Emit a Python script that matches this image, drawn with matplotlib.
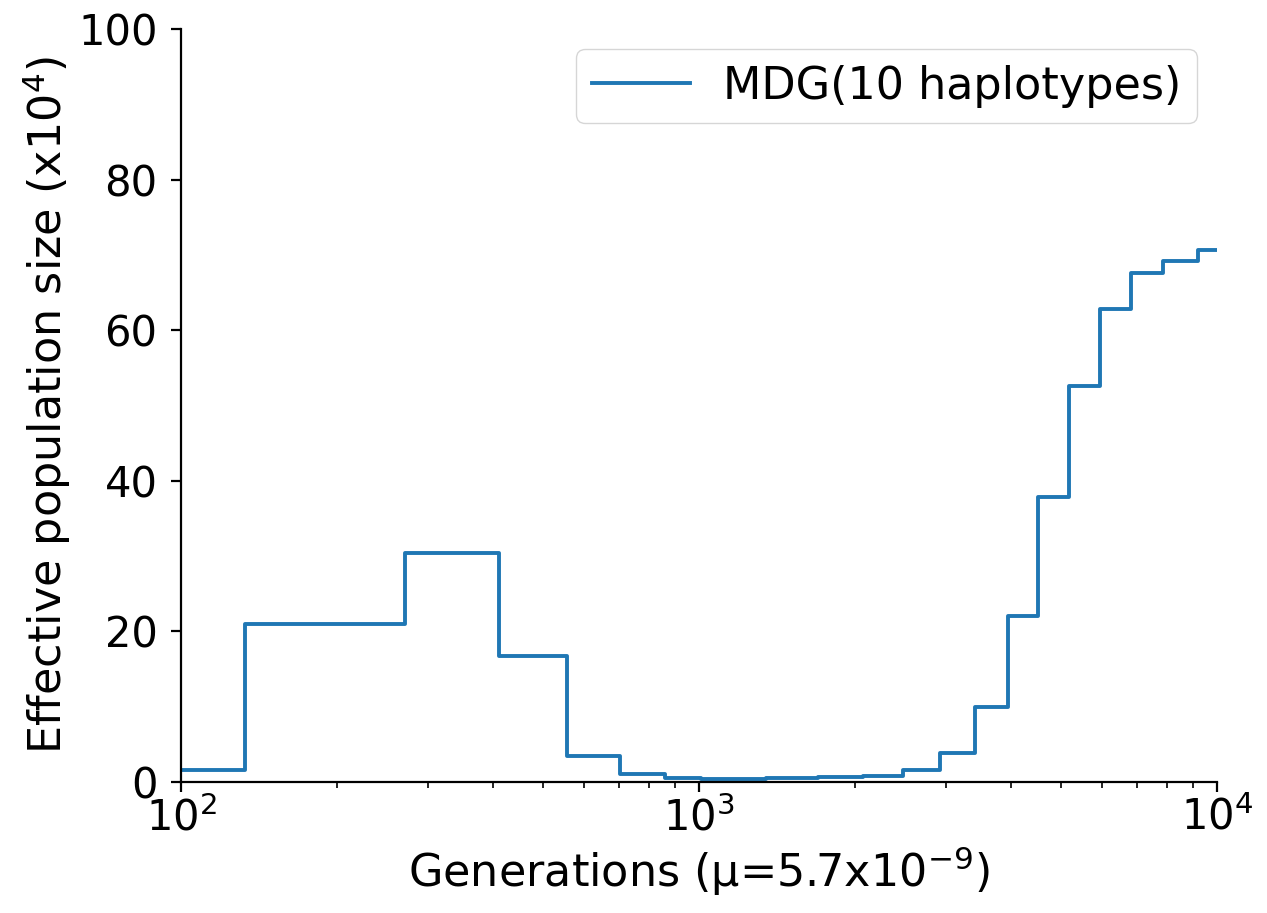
import numpy as np
import matplotlib
matplotlib.use("Agg")
import matplotlib.pyplot as plt

# step start times (generations) and Ne (x10^4)
generations = [100, 133, 271, 411, 557, 705, 861, 1010, 1349, 1697, 2073,
               2477, 2917, 3408, 3942, 4516, 5184, 5943, 6823, 7876, 9202]
ne = [1.63, 21.0, 30.4, 16.8, 3.4, 1.1, 0.57, 0.43, 0.48, 0.6, 0.8,
      1.55, 3.8, 10.0, 22.1, 37.85, 52.6, 62.85, 67.65, 69.2, 70.7]
x_end = 10000
label = "MDG(10 haplotypes)"

plt.rcParams['font.size'] = 32

fig = plt.figure(figsize=(12.67, 9.13), dpi=100)
ax = fig.add_axes([0.143, 0.1435, 0.8175, 0.8245])

x = generations + [x_end]
y = ne + [ne[-1]]
ax.plot(x, y, drawstyle='steps-post', color='#1f77b4', lw=2.8, label=label)

ax.set_xscale('log')
ax.set_xlim(100, 10000)
ax.set_ylim(0, 100)
ax.set_yticks([0, 20, 40, 60, 80, 100])

ax.set_xlabel(r"Generations ($\mathregular{\mu}$=5.7x10$^{-9}$)")
ax.set_ylabel(r"Effective population size (x10$^{4}$)")

ax.spines['top'].set_visible(False)
ax.spines['right'].set_visible(False)
for s in ['left', 'bottom']:
    ax.spines[s].set_linewidth(1.6)
ax.tick_params(which='major', length=7, width=1.6, labelsize=30)
ax.tick_params(axis='y', pad=10)
ax.tick_params(which='minor', length=4, width=1.2)

ax.legend(loc='upper right', handlelength=2.2, handletextpad=0.75,
          borderpad=0.35, fancybox=True, borderaxespad=0.45)

fig.savefig('out.png', dpi=100)
